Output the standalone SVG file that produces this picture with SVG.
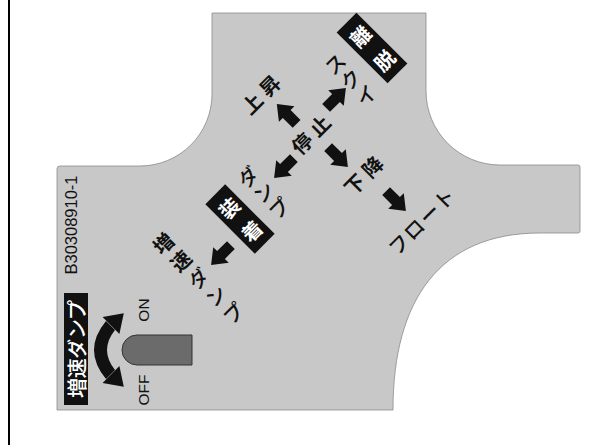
<svg xmlns="http://www.w3.org/2000/svg" width="606" height="445" viewBox="0 0 606 445">
<style>
.jp{font-family:"Noto Sans CJK JP","Noto Sans",sans-serif;font-size:20px;fill:#111;text-anchor:middle;dominant-baseline:central}
.b{font-weight:700}
.m{font-weight:500}
.w{fill:#fff}
.lat{font-family:"Liberation Sans",Arial,sans-serif;fill:#111;text-anchor:middle;dominant-baseline:central}
.box{fill:#111}
</style>
<defs>
<path id="arr" d="M-14,-5.5 L0,-5.5 L0,-11 L14,0 L0,11 L0,5.5 L-14,5.5 Z" fill="#111"/>
</defs>
<rect width="606" height="445" fill="#fff"/>
<line x1="9" y1="0" x2="9" y2="445" stroke="#000" stroke-width="2"/>
<g id="plate">
<path d="M212,13 L426,13 L426,91 A74,74 0 0 0 500,165 L578,165 Q580,165 580,167 L580,231 Q580,233 578,233 L540,233 C440,233 393,300 393,410 L57,410 L57,169 Q57,166 60,166 L140,166 A72,72 0 0 0 212,94 Z" fill="#c8c8c8" stroke="#8a8a8a" stroke-width="0.8"/>
</g>
<g id="n-teishi"><text class="jp b" transform="translate(310.5,134) rotate(-45)" x="-12.5 12.5" y="0 0">停止</text></g>
<g id="n-joushou"><text class="jp b" transform="translate(260.5,94) rotate(-45)" x="-12.5 12.5" y="0 0">上昇</text></g>
<g id="n-kakou"><text class="jp b" transform="translate(363,175) rotate(-45)" x="-12.5 12.5" y="0 0">下降</text></g>
<g id="n-float"><text class="jp m" transform="translate(421,221) rotate(-45)" x="-32 -11 11 32" y="0 0 0 0">フロート</text></g>
<g id="n-sukui"><text class="jp m" transform="translate(350,79) rotate(-45)" x="0 0 0" y="-22 0 22">スクイ</text></g>
<g id="n-ridatsu">
<rect class="box" transform="translate(372,48) rotate(-45)" x="-14" y="-36" width="28" height="72"/>
<text class="jp b w" transform="translate(372,48) rotate(-45)" x="0 0" y="-17 17">離脱</text>
</g>
<g id="n-dump"><text class="jp m" transform="translate(263,192) rotate(-45)" x="0 0 0" y="-22 0 22">ダンプ</text></g>
<g id="n-souchaku">
<rect class="box" transform="translate(240,219) rotate(-45)" x="-14" y="-35" width="28" height="70"/>
<text class="jp b w" transform="translate(240,219) rotate(-45)" x="0 0" y="-16 16">装着</text>
</g>
<g id="n-zousoku"><text class="jp" transform="translate(197.5,277.5) rotate(-45)"><tspan class="b" x="0 0" y="-49.4 -24.7">増速</tspan><tspan class="m" x="0 0 0" y="0 24.7 49.4">ダンプ</tspan></text></g>
<g id="n-code"><text class="lat" transform="translate(71,225) rotate(-90)" font-size="16.5">B30308910-1</text></g>
<g id="n-label">
<rect class="box" x="64" y="293" width="24" height="112"/>
<text class="jp m w" transform="translate(76,349) rotate(-90)" font-size="17" textLength="98" lengthAdjust="spacing">増速ダンプ</text>
</g>
<g id="n-switch">
<path d="M192,335 L137,335 A15,15 0 0 0 137,365 L192,365 Z" fill="#6b6b6b" stroke="#333" stroke-width="1"/>
<path d="M106,321 Q82,350 106,379 L115,370 Q99,350 115,330 Z" fill="#111"/>
<path d="M102.6,316.9 L123.8,313.3 L119.4,334.1 Z" fill="#111"/>
<path d="M102.6,383.1 L123.8,386.7 L119.4,365.9 Z" fill="#111"/>
<text class="lat" transform="translate(143,310) rotate(-90)" font-size="15.5">ON</text>
<text class="lat" transform="translate(143,390) rotate(-90)" font-size="15.5">OFF</text>
</g>
<g id="connectors">
<use href="#arr" transform="translate(286.7,114) rotate(-135)"/>
<use href="#arr" transform="translate(336,98) rotate(-45)"/>
<use href="#arr" transform="translate(284,168) rotate(135)"/>
<use href="#arr" transform="translate(338,157) rotate(45)"/>
<use href="#arr" transform="translate(396,201) rotate(45)"/>
<use href="#arr" transform="translate(221,255) rotate(135)"/>
</g>
</svg>
